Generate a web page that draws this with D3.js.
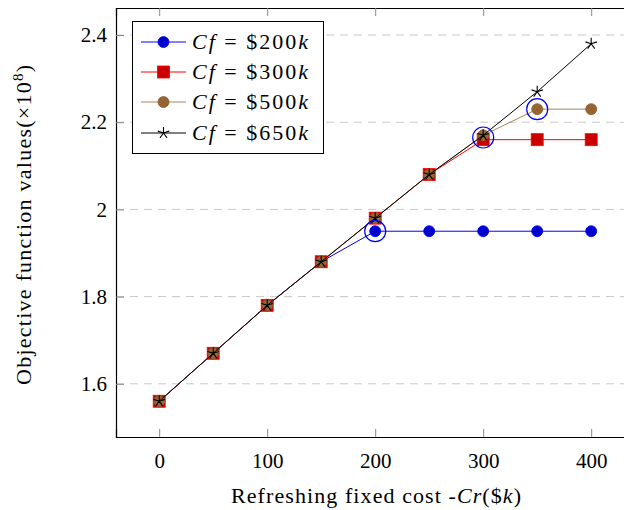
<!DOCTYPE html>
<html>
<head>
<meta charset="utf-8">
<script src="https://cdn.jsdelivr.net/npm/d3@7"></script>
<style>
  body { margin: 0; background: #fff; }
  svg text { font-family: "Liberation Serif", "DejaVu Serif", serif; fill: #000; }
</style>
</head>
<body>
<svg id="chart" width="624" height="510"></svg>
<script>
const xValues = [0, 50, 100, 150, 200, 250, 300, 350, 400];
const cf200 = [1.56, 1.67, 1.78, 1.88, 1.95, 1.95, 1.95, 1.95, 1.95];
const cf300 = [1.56, 1.67, 1.78, 1.88, 1.98, 2.08, 2.16, 2.16, 2.16];
const cf500 = [1.56, 1.67, 1.78, 1.88, 1.98, 2.08, 2.17, 2.23, 2.23];
const cf650 = [1.56, 1.67, 1.78, 1.88, 1.98, 2.08, 2.17, 2.27, 2.38];
const seriesLabels = ['200', '300', '500', '650'];
const xTicks = [0, 100, 200, 300, 400];
const yTicks = [1.6, 1.8, 2.0, 2.2, 2.4];
// points ringed by open blue circles
const highlightX = [200, 300, 350];
const highlightY = [1.95, 2.165, 2.23];

const FONT_SIZE = 21;
const LABEL_SIZE = 22;
const PLOT = { left: 116, top: 8, bottom: 437 };

const svg = d3.select('#chart');

const x = d3.scaleLinear().domain([-40, 440]).range([PLOT.left, PLOT.left + 480 * 1.08]);
const y = d3.scaleLinear().domain([1.478, 2.462]).range([PLOT.bottom, PLOT.top]);

const series = [
  { vals: cf200, line: '#0000ff', fill: '#0000cc', stroke: '#0000ff', mark: 'circle' },
  { vals: cf300, line: '#ff0000', fill: '#cc0000', stroke: '#ff0000', mark: 'square' },
  { vals: cf500, line: '#a8845c', fill: '#996633', stroke: '#8a5a2a', mark: 'otimes' },
  { vals: cf650, line: '#000000', fill: 'none', stroke: '#000000', mark: 'star' }
];

// GRID
svg.append('g')
  .selectAll('line')
  .data(yTicks)
  .join('line')
  .attr('x1', PLOT.left).attr('x2', 624)
  .attr('y1', d => y(d)).attr('y2', d => y(d))
  .attr('stroke', '#c8c8c8')
  .attr('stroke-width', 1)
  .attr('stroke-dasharray', '8,6');

// AXES (ticks pointing inward, mirrored on top)
const axisB = d3.axisBottom(x).tickValues(xTicks).tickSize(-8).tickPadding(16).tickFormat(d3.format('d'));
const axisT = d3.axisTop(x).tickValues(xTicks).tickSize(-8).tickFormat('');
const axisL = d3.axisLeft(y).tickValues(yTicks).tickSize(-8).tickPadding(9).tickFormat(d => d === 2 ? '2' : d3.format('.1f')(d));

function styleAxis(g) {
  g.select('.domain').attr('stroke', '#000').attr('stroke-width', 1.2);
  g.selectAll('.tick line').attr('stroke', '#888').attr('stroke-width', 1);
  g.selectAll('.tick text').attr('font-size', FONT_SIZE).attr('font-family', '"Liberation Serif", serif');
}

svg.append('g').attr('transform', `translate(0,${PLOT.bottom})`).call(axisB).call(styleAxis);
svg.append('g').attr('transform', `translate(0,${PLOT.top})`).call(axisT).call(styleAxis);
svg.append('g').attr('transform', `translate(${PLOT.left},0)`).call(axisL).call(styleAxis);

// MARKERS
function starPath(r) {
  let p = '';
  for (let k = 0; k < 5; k++) {
    const a = -Math.PI / 2 + k * 2 * Math.PI / 5;
    p += `M0,0L${r * Math.cos(a)},${r * Math.sin(a)}`;
  }
  return p;
}

function drawMark(g, s, cx, cy) {
  if (s.mark === 'circle') {
    g.append('circle').attr('cx', cx).attr('cy', cy).attr('r', 5.5)
      .attr('fill', s.fill).attr('stroke', s.stroke).attr('stroke-width', 0.8);
  } else if (s.mark === 'square') {
    g.append('rect').attr('x', cx - 6).attr('y', cy - 6).attr('width', 12).attr('height', 12)
      .attr('fill', s.fill).attr('stroke', s.stroke).attr('stroke-width', 0.8);
  } else if (s.mark === 'otimes') {
    g.append('circle').attr('cx', cx).attr('cy', cy).attr('r', 5.5)
      .attr('fill', s.fill).attr('stroke', s.stroke).attr('stroke-width', 0.8);
    const d = 5.5 * Math.SQRT1_2;
    g.append('path')
      .attr('d', `M${cx - d},${cy - d}L${cx + d},${cy + d}M${cx - d},${cy + d}L${cx + d},${cy - d}`)
      .attr('stroke', s.stroke).attr('stroke-width', 0.7);
  } else {
    g.append('path').attr('transform', `translate(${cx},${cy})`).attr('d', starPath(6))
      .attr('fill', 'none').attr('stroke', s.stroke).attr('stroke-width', 1.1);
  }
}

// SERIES
const line = d3.line().x((d, i) => x(xValues[i])).y(d => y(d));
series.forEach(s => {
  const g = svg.append('g');
  g.append('path').datum(s.vals).attr('d', line)
    .attr('fill', 'none').attr('stroke', s.line).attr('stroke-width', 1);
  s.vals.forEach((v, i) => drawMark(g, s, x(xValues[i]), y(v)));
});

// HIGHLIGHT RINGS
svg.append('g')
  .selectAll('circle')
  .data(highlightX)
  .join('circle')
  .attr('cx', d => x(d))
  .attr('cy', (d, i) => y(highlightY[i]))
  .attr('r', 10.5)
  .attr('fill', 'none')
  .attr('stroke', '#0000ff')
  .attr('stroke-width', 1.2);

// LEGEND
const legend = svg.append('g');
legend.append('rect').attr('x', 132.5).attr('y', 21.5).attr('width', 191).attr('height', 132)
  .attr('fill', '#fff').attr('stroke', '#000').attr('stroke-width', 1);
const legendY = [42, 72, 102, 133];
series.forEach((s, i) => {
  const ly = legendY[i];
  legend.append('line').attr('x1', 141).attr('x2', 186).attr('y1', ly).attr('y2', ly)
    .attr('stroke', s.line).attr('stroke-width', 1);
  drawMark(legend, s, 163.5, ly);
  const t = legend.append('text').attr('x', 192).attr('y', ly + 7).attr('font-size', LABEL_SIZE)
    .attr('textLength', 116).attr('lengthAdjust', 'spacing');
  t.append('tspan').attr('font-style', 'italic').text('Cf');
  t.append('tspan').text(` = $${seriesLabels[i]}`);
  t.append('tspan').attr('font-style', 'italic').text('k');
});

// AXIS LABELS
const xl = svg.append('text').attr('x', 376).attr('y', 503).attr('text-anchor', 'middle')
  .attr('font-size', LABEL_SIZE).attr('textLength', 290).attr('lengthAdjust', 'spacing');
xl.append('tspan').text('Refreshing fixed cost -');
xl.append('tspan').attr('font-style', 'italic').text('Cr');
xl.append('tspan').text('($');
xl.append('tspan').attr('font-style', 'italic').text('k');
xl.append('tspan').text(')');

const yl = svg.append('text').attr('transform', 'translate(31,225) rotate(-90)')
  .attr('text-anchor', 'middle').attr('font-size', LABEL_SIZE)
  .attr('textLength', 320).attr('lengthAdjust', 'spacing');
yl.append('tspan').text('Objective function values(×10');
yl.append('tspan').attr('font-size', 15).attr('dy', -8).text('8');
yl.append('tspan').attr('dy', 8).text(')');
</script>
</body>
</html>
